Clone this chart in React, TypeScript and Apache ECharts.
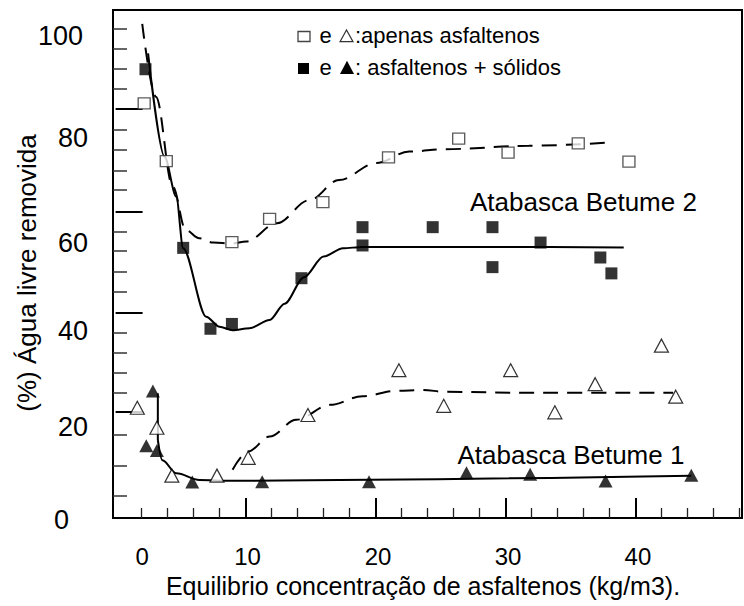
import React, { useEffect, useRef } from "react";
import * as echarts from "echarts";

const FONT = "'Liberation Sans', Arial, Helvetica, sans-serif";

// Axis labels and tick positions (axis units)
const xLabelValues = [0, 10, 20, 30, 40];
const yLabelValues = [0, 20, 40, 60, 80, 100];
const xMinorTicks = [2, 4, 6, 8, 12, 14, 16, 18, 22, 24, 26, 28, 32, 34, 36, 38, 42, 44, 46, 48];
const xMajorTicks = [10, 20, 30, 40];
const yMinorTicks = [101.7, 97.55, 93.4, 89.1, 80.7, 76.4, 72.2, 68.1, 59.5, 55.45, 51.15, 46.9, 38.4, 34.3, 30.1, 25.95, 17.2, 10.9, 4.6];
const yMajorTicks = [84.9, 63.55, 42.6, 22.0];

// Atabasca Betume 2 — apenas asfaltenos (open squares)
const betume2Asf = [
  [2.2, 86.1], [3.9, 74.1], [8.95, 57.3], [11.85, 62.1], [15.95, 65.6],
  [21.0, 74.9], [26.4, 78.8], [30.2, 75.9], [35.6, 77.8], [39.5, 74.0],
];
// Atabasca Betume 2 — asfaltenos + sólidos (filled squares)
const betume2AsfSol = [
  [2.3, 93.2], [5.2, 56.1], [7.3, 39.3], [8.95, 40.3], [14.3, 49.8],
  [19.0, 60.4], [19.0, 56.6], [24.4, 60.4], [29.0, 60.4], [29.0, 52.1],
  [32.7, 57.2], [37.3, 54.1], [38.15, 50.8],
];
// Atabasca Betume 1 — apenas asfaltenos (open triangles)
const betume1Asf = [
  [1.67, 22.9], [3.18, 18.75], [4.33, 8.8], [7.8, 8.8], [10.2, 12.5],
  [14.8, 21.4], [21.8, 30.7], [25.25, 23.3], [30.4, 30.7], [33.8, 21.95],
  [36.9, 27.8], [42.0, 35.8], [43.1, 25.2],
];
// Atabasca Betume 1 — asfaltenos + sólidos (filled triangles)
const betume1AsfSol = [
  [2.87, 26.4], [2.36, 15.0], [3.18, 14.0], [5.9, 7.5], [11.28, 7.55],
  [19.5, 7.55], [27.0, 9.4], [31.9, 9.1], [37.7, 7.7], [44.3, 8.9],
];

// Trend curves
const trend2Asf = [
  [2.05, 102.6], [3.1, 87.5], [4.4, 68.8], [5.4, 59.8], [6.45, 58.1], [7.5, 57.2],
  [8.95, 57.0], [10.05, 57.4], [12.4, 61.2], [14.9, 66.0], [17.2, 70.2],
  [20.05, 73.7], [22.6, 76.1], [25.4, 76.6], [31.8, 77.3], [38.2, 78.0],
];
const trend2AsfSol = [
  [2.5, 96.5], [3.77, 75.0], [4.67, 66.7], [5.2, 56.0], [6.97, 41.8], [8.0, 39.7],
  [9.0, 39.0], [10.3, 39.4], [11.85, 41.1], [13.0, 44.5], [14.5, 50.0],
  [16.0, 54.3], [17.5, 56.0], [19.0, 56.3], [29.0, 56.3], [39.1, 56.2],
];
const trend1Asf = [
  [9.0, 10.0], [10.2, 13.8], [11.85, 16.9], [13.9, 20.4], [16.5, 23.5], [19.0, 25.3],
  [21.6, 26.4], [23.6, 26.6], [25.4, 26.2], [31.85, 26.0], [42.9, 26.0],
];
const trend1AsfSolDrop = [[3.25, 25.9], [3.25, 16.2]];
const trend1AsfSol = [
  [3.25, 16.2], [3.6, 12.0], [4.67, 9.3], [6.46, 7.9], [8.0, 7.75], [44.3, 8.8],
];

// Per-label nudges [top, right, bottom, left] for tick labels
const xLabelPad: Record<number, number[]> = {
  0: [0, 0, 0, 53], 10: [0, 0, 0, 4], 20: [0, 0, 0, 5], 30: [0, 0, 0, 5], 40: [0, 0, 0, 5],
};
const yLabelPad: Record<number, number[]> = {
  0: [4, 19, 0, 0], 20: [10, 0, 0, 0], 40: [12, 0, 0, 0], 60: [28, 0, 0, 0], 80: [10, 0, 0, 0], 100: [0, 5, 0, 0],
};

export default function App() {
  const ref = useRef<HTMLDivElement>(null);

  useEffect(() => {
    if (!ref.current) return;
    const chart = echarts.init(ref.current, undefined, { renderer: "svg" });

    const xRich: Record<string, any> = {};
    xLabelValues.forEach((v) => {
      xRich["x" + v] = { fontSize: 24, fontFamily: FONT, color: "#000", padding: xLabelPad[v] };
    });
    const yRich: Record<string, any> = {};
    yLabelValues.forEach((v) => {
      yRich["y" + v] = { fontSize: 27, fontFamily: FONT, color: "#000", padding: yLabelPad[v] };
    });

    const lineSeries = (data: number[][], dashed: boolean, smooth: number | boolean) => ({
      type: "line",
      data,
      showSymbol: false,
      symbol: "none",
      smooth,
      smoothMonotone: "x",
      lineStyle: { color: "#000", width: 2, type: dashed ? [15, 9] : "solid" },
      z: 2,
      silent: true,
    });

    chart.setOption({
      animation: false,
      backgroundColor: "#fff",
      grid: {
        left: 113, top: 10, right: 2, bottom: 88,
        containLabel: false,
        show: true, borderColor: "#000", borderWidth: 2,
      },
      xAxis: [
        {
          type: "value", min: -0.2, max: 48.2, position: "bottom",
          axisLine: { show: true, onZero: false, lineStyle: { color: "#000", width: 2 } },
          axisTick: { show: true, inside: true, length: 10, customValues: xMinorTicks, lineStyle: { color: "#222", width: 1.3 } },
          axisLabel: {
            show: true, margin: 26, customValues: xLabelValues,
            formatter: (v: number) => `{x${v}|${v}}`, rich: xRich,
          },
          splitLine: { show: false },
        },
        {
          type: "value", min: -0.2, max: 48.2, position: "bottom",
          axisLine: { show: false },
          axisTick: { show: true, inside: true, length: 20, customValues: xMajorTicks, lineStyle: { color: "#000", width: 2 } },
          axisLabel: { show: false },
          splitLine: { show: false },
        },
      ],
      yAxis: [
        {
          type: "value", min: 0, max: 105.5, position: "left",
          axisLine: { show: true, onZero: false, lineStyle: { color: "#000", width: 2 } },
          axisTick: { show: true, inside: true, length: 14, customValues: yMinorTicks, lineStyle: { color: "#333", width: 1.5 } },
          axisLabel: {
            show: true, margin: 25, customValues: yLabelValues,
            formatter: (v: number) => `{y${v}|${v}}`, rich: yRich,
          },
          splitLine: { show: false },
        },
        {
          type: "value", min: 0, max: 105.5, position: "left",
          axisLine: { show: false },
          axisTick: { show: true, inside: true, length: 27, customValues: yMajorTicks, lineStyle: { color: "#000", width: 2 } },
          axisLabel: { show: false },
          splitLine: { show: false },
        },
      ],
      series: [
        lineSeries(trend2Asf, true, 0.35),
        lineSeries(trend2AsfSol, false, 0.3),
        lineSeries(trend1Asf, true, 0.35),
        lineSeries(trend1AsfSolDrop, false, false),
        lineSeries(trend1AsfSol, false, 0.35),
        {
          type: "scatter", data: betume2Asf, symbol: "rect", symbolSize: [12, 11], z: 3,
          itemStyle: { color: "#fff", borderColor: "#333", borderWidth: 1.3 },
        },
        {
          type: "scatter", data: betume2AsfSol, symbol: "rect", symbolSize: [12, 12], z: 3,
          itemStyle: { color: "#000" },
        },
        {
          type: "scatter", data: betume1Asf, symbol: "triangle", symbolSize: [14, 13], z: 3,
          itemStyle: { color: "#fff", borderColor: "#000", borderWidth: 1.2 },
        },
        {
          type: "scatter", data: betume1AsfSol, symbol: "triangle", symbolSize: [14, 13], z: 3,
          itemStyle: { color: "#000" },
        },
      ],
      graphic: [
        // legend box
        { type: "rect", shape: { x: 298, y: 31.5, width: 12, height: 10 }, style: { fill: "#fff", stroke: "#444", lineWidth: 1.3 }, z: 10 },
        { type: "text", x: 319.5, y: 35, style: { text: "e", font: `22px ${FONT}`, fill: "#000", textVerticalAlign: "middle" }, z: 10 },
        { type: "polygon", shape: { points: [[340, 41.7], [346.5, 30], [353, 41.7]] }, style: { fill: "#fff", stroke: "#333", lineWidth: 1.2 }, z: 10 },
        { type: "text", x: 355, y: 35, style: { text: ":apenas asfaltenos", font: `22px ${FONT}`, fill: "#000", textVerticalAlign: "middle" }, z: 10 },
        { type: "rect", shape: { x: 298, y: 63, width: 11, height: 11 }, style: { fill: "#000" }, z: 10 },
        { type: "text", x: 319.5, y: 67.3, style: { text: "e", font: `22px ${FONT}`, fill: "#000", textVerticalAlign: "middle" }, z: 10 },
        { type: "polygon", shape: { points: [[340, 74], [347, 60.7], [354, 74]] }, style: { fill: "#000" }, z: 10 },
        { type: "text", x: 355, y: 67.3, style: { text: ": asfaltenos + sólidos", font: `22px ${FONT}`, fill: "#000", textVerticalAlign: "middle" }, z: 10 },
        // curve annotations
        { type: "text", x: 470, y: 201.6, style: { text: "Atabasca Betume 2", font: `26px ${FONT}`, fill: "#000", textVerticalAlign: "middle" }, z: 10 },
        { type: "text", x: 457.5, y: 455.2, style: { text: "Atabasca Betume 1", font: `26px ${FONT}`, fill: "#000", textVerticalAlign: "middle" }, z: 10 },
        // axis titles
        { type: "text", x: 27, y: 273, rotation: Math.PI / 2, style: { text: "(%) Água livre removida", font: `26px ${FONT}`, fill: "#000", textAlign: "center", textVerticalAlign: "middle" }, z: 10 },
        { type: "text", x: 423, y: 586, style: { text: "Equilibrio concentração de asfaltenos (kg/m3).", font: `25px ${FONT}`, fill: "#000", textAlign: "center", textVerticalAlign: "middle" }, z: 10 },
      ],
    });

    return () => chart.dispose();
  }, []);

  return (
    <div
      ref={ref}
      style={{ position: "fixed", left: 0, top: 0, width: 744, height: 606, background: "#fff" }}
    />
  );
}
